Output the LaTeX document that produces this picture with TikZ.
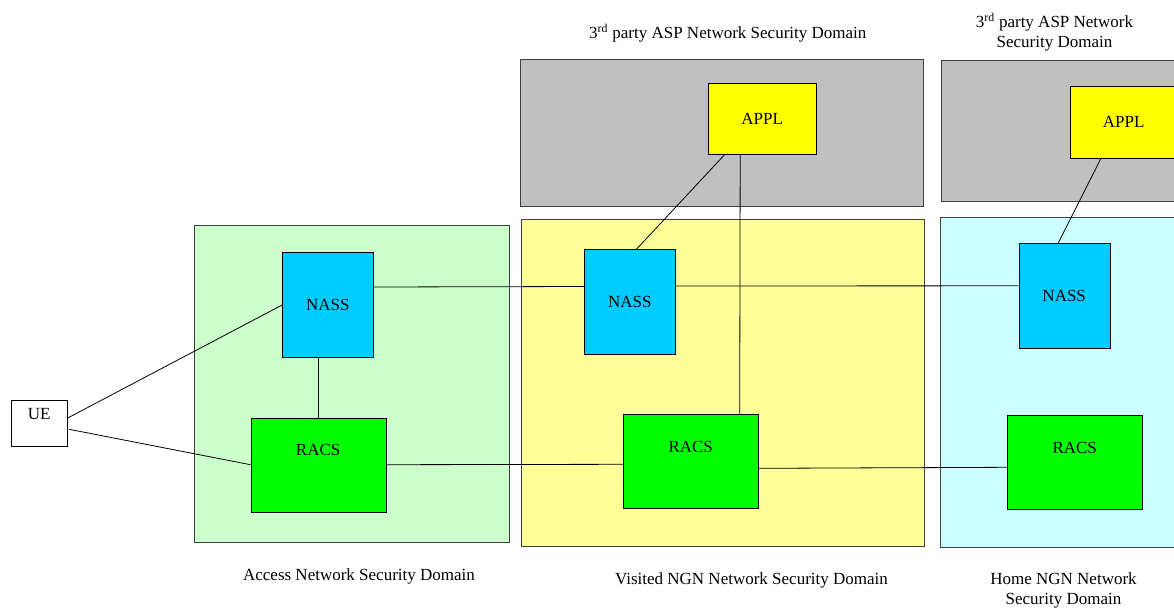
\documentclass[tikz,border=0pt]{standalone}
\usepackage{fontspec}
\setmainfont{Liberation Serif}
\usepackage{tikz}
\usetikzlibrary{positioning,calc}
\definecolor{accessbg}{HTML}{CCFFCC}
\definecolor{visitedbg}{HTML}{FFFF99}
\definecolor{homebg}{HTML}{CCFFFF}
\definecolor{aspbg}{HTML}{C0C0C0}
\definecolor{nasscol}{HTML}{00CCFF}
\definecolor{racscol}{HTML}{00FF00}
\definecolor{applcol}{HTML}{FFFF00}

\begin{document}
\begin{tikzpicture}[x=1pt,y=-1pt,font=\fontsize{17}{20}\selectfont]
\useasboundingbox (0,0) rectangle (1174,608);
%%%%%%%%%%%%%%%%%%%%%%%%%%%%%%%%%%%%%%%%%%%%%%%%%%%%%%%%%%%%%%%%%%%%%%%%
%styles
\tikzstyle{secdomain}=[draw=black!75,line width=0.9pt]
\tikzstyle{nassbox}=[draw,fill=nasscol,minimum width=91pt,minimum height=105pt,inner sep=0pt]
\tikzstyle{racsbox}=[draw,fill=racscol,minimum width=135pt,minimum height=94pt,inner sep=0pt,text height=12pt,text depth=30pt]
\tikzstyle{applbox}=[draw,fill=applcol,minimum width=108pt,minimum height=71.5pt,inner sep=0pt]
\tikzstyle{link}=[line width=0.8pt]

%domains
\draw[secdomain,fill=accessbg] (194.7,225) rectangle (509,542.7);
\draw[secdomain,fill=visitedbg] (521.5,219) rectangle (924.7,546);
\draw[secdomain,fill=homebg] (940.2,217) rectangle (1185,547.7);
\draw[secdomain,fill=aspbg] (520.6,59) rectangle (923.4,206.7);
\draw[secdomain,fill=aspbg] (941.9,60) rectangle (1185,201.7);

%domain names
\node (aspV) at (727.8,33) {3\textsuperscript{rd} party ASP Network Security Domain};
\node (aspH) [align=center] at (1054.5,32) {3\textsuperscript{rd} party ASP Network\\Security Domain};
\node (accN) at (359,576) {Access Network Security Domain};
\node (visN) at (751.5,580.7) {Visited NGN Network Security Domain};
\node (homN) [align=center] at (1063.5,590) {Home NGN Network\\Security Domain};

%UE
\node[draw,fill=white,minimum width=55.3pt,minimum height=45.3pt,inner sep=0pt,text height=12pt,text depth=20.6pt] (ue) at (39.3,423.3) {UE};
%access
\node[nassbox] (nassA) at (327.8,305) {NASS};
\node[racsbox] (racsA) at (318.2,464.7) {RACS};
%visited
\node[nassbox] (nassV) at (629.9,302) {NASS};
\node[racsbox] (racsV) at (690.7,461.3) {RACS};
\node[applbox] (applV) at (762.2,118.5) {APPL};
%home
\node[nassbox] (nassH) at (1064.2,295.8) {NASS};
\node[racsbox] (racsH) at (1074.7,462.3) {RACS};
\node[applbox] (applH) at (1123.7,122.3) {APPL};

%links
\draw[link] ([yshift=5pt]ue.east) -- (nassA.west);
\draw[link] ([yshift=-6pt,xshift=2pt]ue.east) -- (racsA.west);
\draw[link] (nassA.south -| racsA.north) -- (racsA.north);

\draw[link] ([yshift=18pt]nassA.east) -- ([yshift=15.5pt]nassV.west);
\draw[link] (racsA.east) -- ([yshift=-3pt]racsV.west);

\draw[link] ([yshift=16pt]nassV.east) -- ([yshift=10pt]nassH.west);
\draw[link] ([yshift=-7pt]racsV.east) -- ([yshift=-5pt]racsH.west);

\draw[link] ([xshift=-37.4pt]applV.south) -- ([xshift=6.5pt]nassV.north);
\draw[link] ([xshift=-22pt]applV.south) -- ([xshift=49pt]racsV.north);
\draw[link] ([xshift=-22.7pt]applH.south) -- ([xshift=-6pt]nassH.north);

\end{tikzpicture}
\end{document}
